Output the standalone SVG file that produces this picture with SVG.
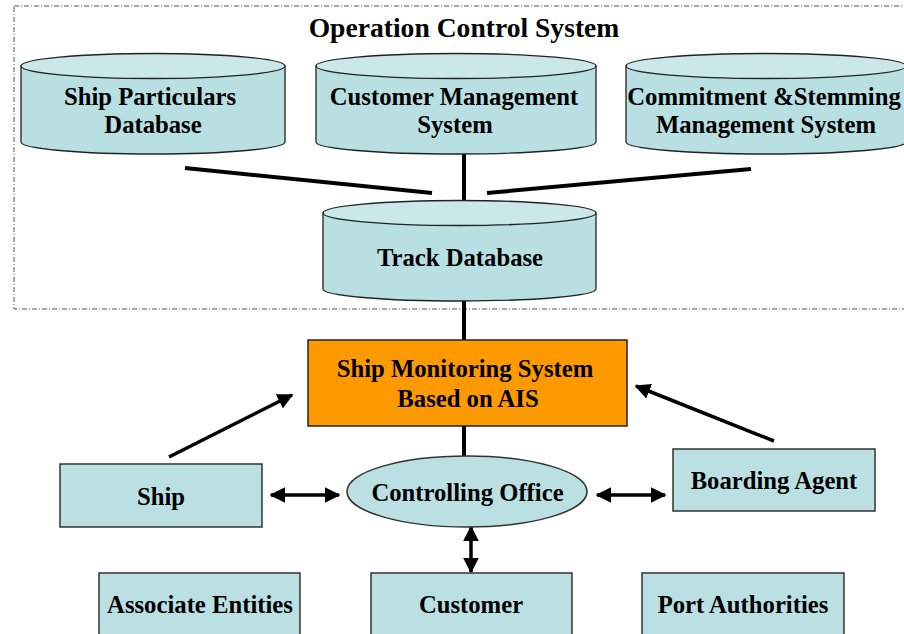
<svg xmlns="http://www.w3.org/2000/svg" width="904" height="634" viewBox="0 0 904 634">
<style>
text{font-family:"Liberation Serif","Times New Roman",serif;font-weight:bold;font-size:24.7px;fill:#000;text-anchor:middle}
.title{font-size:27.6px}
.body{fill:#B8DFE1;stroke:#222;stroke-width:1.3}
.top{fill:#CAE7E9;stroke:#222;stroke-width:1.3}
.box{fill:#BAE0E3;stroke:#333;stroke-width:1.5}
.conn{stroke:#000;stroke-width:4;fill:none}
.arr{stroke:#000;stroke-width:3.5;fill:none}
</style>
<defs>
<marker id="ah" viewBox="0 0 10 10" refX="9" refY="5" markerWidth="4.5" markerHeight="4.5" orient="auto-start-reverse" markerUnits="strokeWidth">
<path d="M0,0 L10,5 L0,10 z" fill="#000"/>
</marker>
</defs>
<rect width="904" height="634" fill="#fff"/>
<rect id="ocs-frame" x="14" y="6" width="900" height="303" fill="none" stroke="#555" stroke-width="1" stroke-dasharray="5,2,1,2"/>
<text class="title" x="464" y="37">Operation Control System</text>

<g id="connectors">
<line class="conn" x1="185" y1="168" x2="432" y2="193"/>
<line class="conn" x1="487" y1="193" x2="751" y2="169"/>
<line class="conn" x1="464" y1="154" x2="464" y2="201"/>
<line class="conn" x1="464" y1="301" x2="464" y2="340"/>
<line class="conn" x1="464" y1="426" x2="464" y2="456"/>
<line class="arr" x1="169" y1="457" x2="292" y2="395" marker-end="url(#ah)"/>
<line class="arr" x1="774" y1="441" x2="636" y2="386" marker-end="url(#ah)"/>
<line class="arr" x1="271" y1="495" x2="339" y2="495" marker-start="url(#ah)" marker-end="url(#ah)"/>
<line class="arr" x1="597" y1="495" x2="665" y2="495" marker-start="url(#ah)" marker-end="url(#ah)"/>
<line class="arr" x1="471" y1="527" x2="471" y2="572" marker-start="url(#ah)" marker-end="url(#ah)"/>
</g>

<g id="ship-particulars">
<path class="body" d="M21,66 V142 A132,12 0 0 0 285,142 V66 Z"/>
<ellipse class="top" cx="153" cy="66" rx="132" ry="12.5"/>
<text x="150" y="105">Ship Particulars</text>
<text x="153" y="133">Database</text>
</g>

<g id="customer-management">
<path class="body" d="M316,66 V142 A140,12 0 0 0 596,142 V66 Z"/>
<ellipse class="top" cx="456" cy="66" rx="140" ry="12.5"/>
<text x="454" y="105">Customer Management</text>
<text x="455" y="133">System</text>
</g>

<g id="commitment-stemming">
<path class="body" d="M626,66 V142 A140,12 0 0 0 906,142 V66 Z"/>
<ellipse class="top" cx="766" cy="66" rx="140" ry="12.5"/>
<text x="764" y="105">Commitment &amp;Stemming</text>
<text x="766" y="133">Management System</text>
</g>

<g id="track-database">
<path class="body" d="M323,213 V289 A136.5,12 0 0 0 596,289 V213 Z"/>
<ellipse class="top" cx="459.5" cy="213" rx="136.5" ry="12.5"/>
<text x="460" y="266">Track Database</text>
</g>

<g id="ship-monitoring">
<rect x="308" y="340" width="319" height="86" fill="#FF9900" stroke="#222" stroke-width="1.5"/>
<text x="465" y="377">Ship Monitoring System</text>
<text x="468" y="407">Based on AIS</text>
</g>

<g id="ship">
<rect class="box" x="60" y="464" width="202" height="63"/>
<text x="161" y="505">Ship</text>
</g>

<g id="controlling-office">
<ellipse class="box" cx="467" cy="491.5" rx="120" ry="35.5"/>
<text x="467.5" y="501">Controlling Office</text>
</g>

<g id="boarding-agent">
<rect class="box" x="673" y="449" width="202" height="62"/>
<text x="774" y="489">Boarding Agent</text>
</g>

<g id="associate-entities">
<rect class="box" x="99" y="573" width="201" height="70"/>
<text x="200" y="613">Associate Entities</text>
</g>

<g id="customer">
<rect class="box" x="371" y="573" width="201" height="70"/>
<text x="471" y="613">Customer</text>
</g>

<g id="port-authorities">
<rect class="box" x="642" y="573" width="202" height="70"/>
<text x="743" y="613">Port Authorities</text>
</g>
</svg>
